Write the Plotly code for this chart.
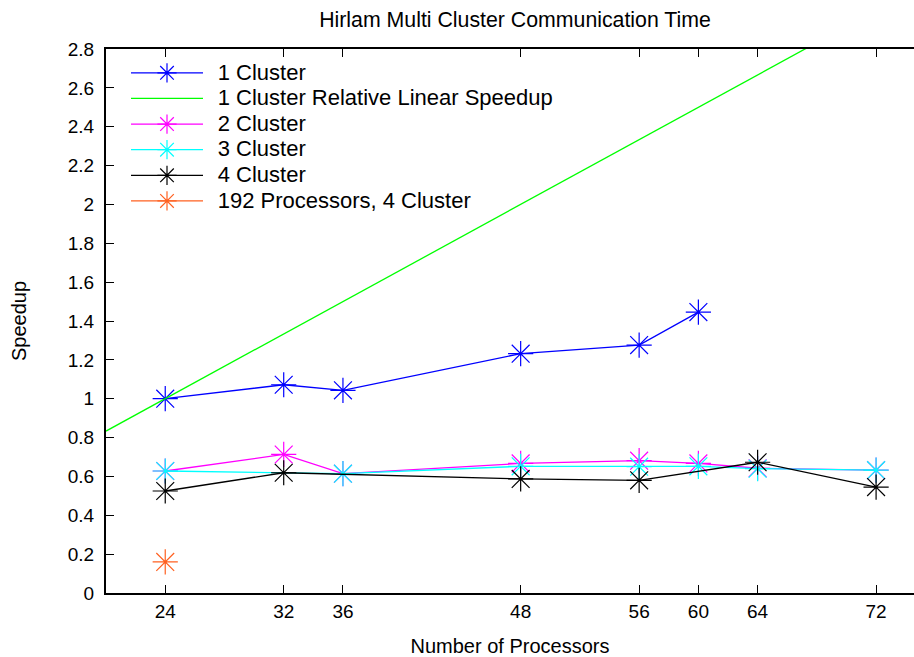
import plotly.graph_objects as go

# Data
x_c1 = [24, 32, 36, 48, 56, 60]
y_c1 = [1.0, 1.072, 1.043, 1.232, 1.276, 1.446]

x_lin = [20, 72]
y_lin = [0.8333, 3.0]

x_c2 = [24, 32, 36, 48, 56, 60, 64, 72]
y_c2 = [0.628, 0.713, 0.614, 0.667, 0.681, 0.667, 0.642, 0.632]

x_c3 = [24, 36, 48, 56, 60, 64, 72]
y_c3 = [0.628, 0.614, 0.652, 0.650, 0.652, 0.640, 0.632]

x_c4 = [24, 32, 48, 56, 64, 72]
y_c4 = [0.525, 0.619, 0.587, 0.580, 0.673, 0.545]

x_192 = [24]
y_192 = [0.160]

x_ticks = [24, 32, 36, 48, 56, 60, 64, 72]
y_ticks = [0, 0.2, 0.4, 0.6, 0.8, 1, 1.2, 1.4, 1.6, 1.8, 2, 2.2, 2.4, 2.6, 2.8]

names = ["1 Cluster", "1 Cluster Relative Linear Speedup", "2 Cluster",
         "3 Cluster", "4 Cluster", "192 Processors, 4 Cluster"]

FONT = "Liberation Sans, Arial, sans-serif"


def lg(name):
    return '\u00a0\u00a0<span style="font-size:22px">' + name + '</span>'


def star_trace(x, y, name, color):
    return go.Scatter(
        x=x, y=y, name=lg(name), mode="lines+markers",
        line=dict(color=color, width=1.3),
        marker=dict(symbol="asterisk-open", size=21, color=color,
                    line=dict(color=color, width=1.2)),
    )


fig = go.Figure()
fig.add_trace(star_trace(x_c1, y_c1, names[0], "#0000ff"))
fig.add_trace(go.Scatter(x=x_lin, y=y_lin, name=lg(names[1]),
                         mode="lines", line=dict(color="#00ff00", width=1.3)))
fig.add_trace(star_trace(x_c2, y_c2, names[2], "#ff00ff"))
fig.add_trace(star_trace(x_c3, y_c3, names[3], "#00ffff"))
fig.add_trace(star_trace(x_c4, y_c4, names[4], "#000000"))
fig.add_trace(star_trace(x_192, y_192, names[5], "#ff6020"))

fig.update_layout(
    width=914, height=657,
    margin=dict(l=106, r=0, t=49, b=64),
    paper_bgcolor="white", plot_bgcolor="white",
    font=dict(family=FONT, size=19, color="black"),
    title=dict(text="Hirlam Multi Cluster Communication Time",
               x=(515 - 106) / 808, xref="paper", xanchor="center",
               y=1 - 20 / 657, yanchor="middle",
               font=dict(family=FONT, size=21.3, color="black")),
    showlegend=True,
    legend=dict(x=(131 - 106 - 5) / 808, y=1 - 6 / 544, xanchor="left", yanchor="top",
                bgcolor="rgba(0,0,0,0)", borderwidth=0,
                font=dict(family=FONT, size=17.4, color="black"),
                itemwidth=72, tracegroupgap=0),
    xaxis=dict(range=[20, 74.56], tickvals=x_ticks, ticktext=[str(v) for v in x_ticks],
               ticks="inside", ticklen=8, tickwidth=1.3, tickcolor="black",
               showline=True, linecolor="black", linewidth=2, mirror="ticks",
               showgrid=False, zeroline=False,
               title=dict(text="Number of Processors", standoff=18,
                          font=dict(family=FONT, size=20)),
               tickfont=dict(family=FONT, size=19)),
    yaxis=dict(range=[0, 2.8], tickvals=y_ticks,
               ticktext=[("%g" % v) for v in y_ticks],
               ticks="inside", ticklen=8, tickwidth=1.3, tickcolor="black",
               showline=True, linecolor="black", linewidth=2, mirror=False,
               showgrid=False, zeroline=False,
               title=dict(text="Speedup", standoff=36,
                          font=dict(family=FONT, size=20)),
               tickfont=dict(family=FONT, size=19), ticklabelstandoff=6),
)

fig.write_html("out.html")
